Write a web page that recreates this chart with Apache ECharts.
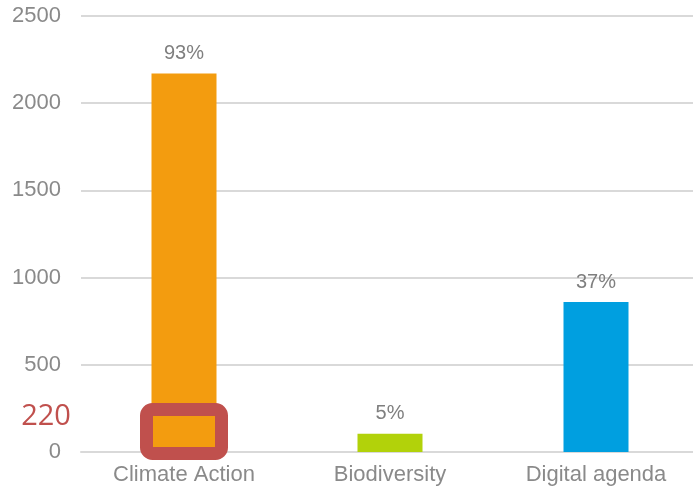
<!DOCTYPE html>
<html><head><meta charset="utf-8">
<script src="https://cdn.jsdelivr.net/npm/echarts@6/dist/echarts.min.js"></script>
<style>html,body{margin:0;padding:0;background:#fff;overflow:hidden}#c{width:699px;height:491px}</style>
</head><body><div id="c"></div>
<script>
const categories = ['Climate Action', 'Biodiversity', 'Digital agenda'];
const values = [2170, 105, 860];
const shares = ['93%', '5%', '37%'];
const barColors = ['#F39C0F', '#B2D20A', '#009FE0'];
const yTicks = { min: 0, max: 2500, interval: 500 };
const highlightValue = 220;
const highlightLabel = '220';

const chart = echarts.init(document.getElementById('c'), null, { renderer: 'canvas' });
const font = '"Liberation Sans", Arial, sans-serif';
chart.setOption({
  animation: false,
  grid: { left: 81, right: 0, top: 16, bottom: 39, containLabel: false },
  xAxis: {
    type: 'category', data: categories,
    axisLine: { show: true, lineStyle: { color: '#d9d9d9', width: 2 } },
    axisTick: { show: false },
    axisLabel: { color: '#8a8a8a', fontSize: 22, fontFamily: font, margin: 12 }
  },
  yAxis: {
    type: 'value', min: yTicks.min, max: yTicks.max, interval: yTicks.interval,
    axisLine: { show: false }, axisTick: { show: false },
    splitLine: { lineStyle: { color: '#d9d9d9', width: 2 } },
    axisLabel: { color: '#8a8a8a', fontSize: 22, fontFamily: font, margin: 20, formatter: v => String(v) }
  },
  series: [{
    type: 'bar', barWidth: 65,
    data: values.map((v, i) => ({ value: v, itemStyle: { color: barColors[i] } })),
    label: {
      show: true, position: 'top', distance: 10,
      formatter: p => shares[p.dataIndex],
      color: '#7f7f7f', fontSize: 20, fontFamily: font
    }
  }]
});

// annotation box around the low part of the first bar
const basePt = chart.convertToPixel({ xAxisIndex: 0, yAxisIndex: 0 }, [categories[0], 0]);
const hiPt = chart.convertToPixel({ xAxisIndex: 0, yAxisIndex: 0 }, [categories[0], highlightValue]);
const cx = basePt[0];
chart.setOption({
  graphic: [
    {
      type: 'rect',
      shape: { x: cx - 37.5, y: basePt[1] - 42.5, width: 75, height: 44, r: 6 },
      style: { fill: 'none', stroke: '#C0504D', lineWidth: 13 },
      z: 100
    },
    {
      type: 'text',
      x: 46, y: hiPt[1] + 3,
      style: { text: highlightLabel, fill: '#C0504D', font: '29px "Open Sans", "Liberation Sans", sans-serif', align: 'center', verticalAlign: 'middle' },
      z: 100
    }
  ]
});
</script></body></html>
